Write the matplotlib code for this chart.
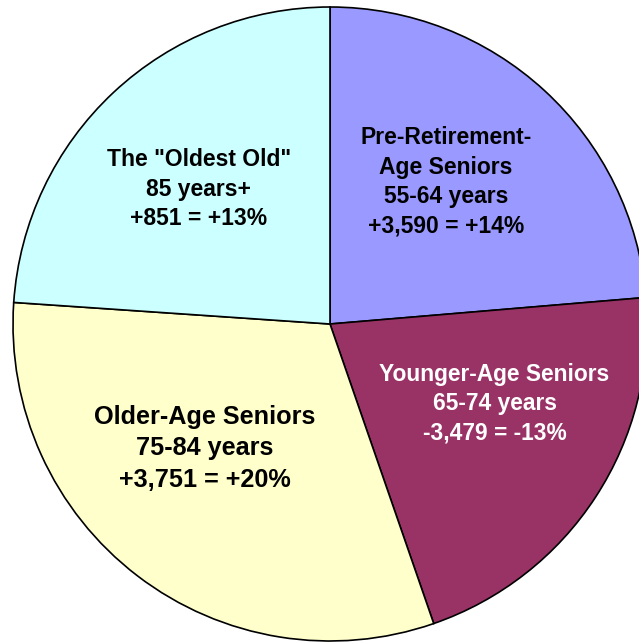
import matplotlib
matplotlib.use("Agg")
import matplotlib.pyplot as plt

# Slice sizes (degrees of the circle)
groups = ["Pre-Retirement-Age Seniors", "Younger-Age Seniors", "Older-Age Seniors", "Oldest Old"]
shares = [85.2, 75.7, 113.0, 86.1]
colors = ["#9999FF", "#993366", "#FFFFCC", "#CCFFFF"]

labels = [
    "Pre-Retirement-\nAge Seniors\n55-64 years\n+3,590 = +14%",
    "Younger-Age Seniors\n65-74 years\n-3,479 = -13%",
    "Older-Age Seniors\n75-84 years\n+3,751 = +20%",
    "The \"Oldest Old\"\n85 years+\n+851 = +13%",
]
label_pos = [(0.366, 0.448), (0.519, -0.252), (-0.394, -0.392), (-0.414, 0.425)]
label_size = [16.5, 16.4, 18.2, 16.5]
label_color = ["black", "white", "black", "black"]
label_spacing = [1.36, 1.36, 1.4, 1.36]

fig = plt.figure(figsize=(6.39, 6.43), dpi=100)
ax = fig.add_axes([13 / 639, 2 / 643, 634 / 639, 634 / 643])

wedges, _ = ax.pie(shares, colors=colors, startangle=90, counterclock=False,
                   radius=1.0,
                   wedgeprops=dict(edgecolor="black", linewidth=1.2))
for w in wedges:
    w.set_clip_on(False)

for txt, (x, y), fs, c, ls in zip(labels, label_pos, label_size, label_color, label_spacing):
    ax.text(x, y, txt, ha="center", va="center", fontsize=fs, color=c,
            fontweight="bold", family="Liberation Sans", linespacing=ls)

ax.set_xlim(-1, 1)
ax.set_ylim(-1, 1)
ax.set_aspect("equal")
ax.axis("off")

fig.savefig("out.png", dpi=100)
